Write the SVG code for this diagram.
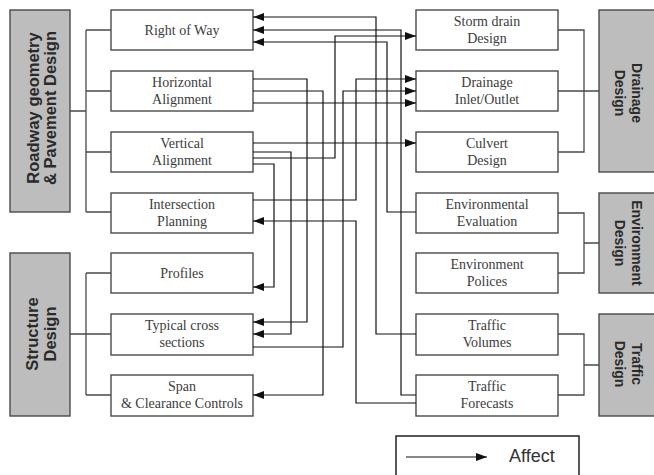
<svg xmlns="http://www.w3.org/2000/svg" width="654" height="475" viewBox="0 0 654 475">
<style>
.box{fill:#fff;stroke:#4a4a4a;stroke-width:1.4}
.gbox{fill:#bdbdbd;stroke:#4a4a4a;stroke-width:1.4}
.t{font-family:"Liberation Serif","Times New Roman",serif;font-size:14px;fill:#3c3c3c;text-anchor:middle}
.gt{font-family:"Liberation Sans",Arial,sans-serif;font-weight:bold;fill:#2a2a2a;text-anchor:middle}
.tree{fill:none;stroke:#4a4a4a;stroke-width:1.3}
.arr{fill:none;stroke:#111;stroke-width:1.2;marker-end:url(#ah)}
</style>
<defs>
<marker id="ah" viewBox="0 0 11 8" refX="11" refY="4" markerWidth="11" markerHeight="8" markerUnits="userSpaceOnUse" orient="auto">
<path d="M0,0 L11,4 L0,8 Z" fill="#111"/>
</marker>
</defs>
<rect width="654" height="475" fill="#fff"/>

<g id="roadway">
<rect class="gbox" x="10" y="10" width="60" height="202"/>
<g transform="translate(47,108) rotate(-90)"><text class="gt" font-size="16.5" x="0" y="-8">Roadway geometry</text><text class="gt" font-size="16.5" x="0" y="9">&amp; Pavement Design</text></g>
</g>
<g id="structure">
<rect class="gbox" x="10" y="253" width="60" height="163"/>
<g transform="translate(47,334) rotate(-90)"><text class="gt" font-size="16.5" x="0" y="-9">Structure</text><text class="gt" font-size="16.5" x="0" y="9">Design</text></g>
</g>
<g id="drainage">
<rect class="gbox" x="599" y="10" width="60" height="162"/>
<g transform="translate(624,93) rotate(90)"><text class="gt" font-size="14" x="0" y="-8">Drainage</text><text class="gt" font-size="14" x="0" y="9">Design</text></g>
</g>
<g id="environment">
<rect class="gbox" x="599" y="193" width="60" height="100"/>
<g transform="translate(624,243) rotate(90)"><text class="gt" font-size="14" x="0" y="-8">Environment</text><text class="gt" font-size="14" x="0" y="9">Design</text></g>
</g>
<g id="traffic">
<rect class="gbox" x="599" y="314" width="60" height="102"/>
<g transform="translate(624,364) rotate(90)"><text class="gt" font-size="14" x="0" y="-8">Traffic</text><text class="gt" font-size="14" x="0" y="9">Design</text></g>
</g>

<g id="right-of-way"><rect class="box" x="111" y="10" width="142" height="40"/><text class="t" x="182" y="35">Right of Way</text></g>
<g id="horizontal-alignment"><rect class="box" x="111" y="71" width="142" height="40"/><text class="t" x="182" y="87">Horizontal</text><text class="t" x="182" y="104">Alignment</text></g>
<g id="vertical-alignment"><rect class="box" x="111" y="132" width="142" height="40"/><text class="t" x="182" y="148">Vertical</text><text class="t" x="182" y="165">Alignment</text></g>
<g id="intersection-planning"><rect class="box" x="111" y="193" width="142" height="40"/><text class="t" x="182" y="209">Intersection</text><text class="t" x="182" y="226">Planning</text></g>
<g id="profiles"><rect class="box" x="111" y="253" width="142" height="40"/><text class="t" x="182" y="278">Profiles</text></g>
<g id="typical-cross-sections"><rect class="box" x="111" y="314" width="142" height="41"/><text class="t" x="182" y="330">Typical cross</text><text class="t" x="182" y="347">sections</text></g>
<g id="span-clearance"><rect class="box" x="111" y="375" width="142" height="41"/><text class="t" x="182" y="391">Span</text><text class="t" x="182" y="408">&amp; Clearance Controls</text></g>

<g id="storm-drain"><rect class="box" x="416" y="10" width="142" height="40"/><text class="t" x="487" y="26">Storm drain</text><text class="t" x="487" y="43">Design</text></g>
<g id="drainage-inlet"><rect class="box" x="416" y="71" width="142" height="40"/><text class="t" x="487" y="87">Drainage</text><text class="t" x="487" y="104">Inlet/Outlet</text></g>
<g id="culvert"><rect class="box" x="416" y="132" width="142" height="40"/><text class="t" x="487" y="148">Culvert</text><text class="t" x="487" y="165">Design</text></g>
<g id="environmental-evaluation"><rect class="box" x="416" y="193" width="142" height="40"/><text class="t" x="487" y="209">Environmental</text><text class="t" x="487" y="226">Evaluation</text></g>
<g id="environment-polices"><rect class="box" x="416" y="253" width="142" height="40"/><text class="t" x="487" y="269">Environment</text><text class="t" x="487" y="286">Polices</text></g>
<g id="traffic-volumes"><rect class="box" x="416" y="314" width="142" height="41"/><text class="t" x="487" y="330">Traffic</text><text class="t" x="487" y="347">Volumes</text></g>
<g id="traffic-forecasts"><rect class="box" x="416" y="375" width="142" height="41"/><text class="t" x="487" y="391">Traffic</text><text class="t" x="487" y="408">Forecasts</text></g>

<g id="connectors">
<path class="tree" d="M70,111 H86 M86,30 V212 M86,30 H111 M86,91 H111 M86,152 H111 M86,212 H111"/>
<path class="tree" d="M70,334 H111 M86,273 V395 M86,273 H111 M86,395 H111"/>
<path class="tree" d="M558,30 H584 V152 H558 M558,91 H599"/>
<path class="tree" d="M558,213 H584 V273 H558 M584,243 H599"/>
<path class="tree" d="M558,334 H584 V395 H558 M584,365 H599"/>

<path class="arr" d="M416,334 H376 V17 H253"/>
<path class="arr" d="M416,395 H401 V30 H253"/>
<path class="arr" d="M416,212 H387 V42 H253"/>
<path class="arr" d="M253,158 H335 V36 H416"/>
<path class="arr" d="M253,103 H416"/>
<path class="arr" d="M253,200 H356 V79 H416"/>
<path class="arr" d="M253,347 H343 V91 H416"/>
<path class="arr" d="M253,143 H416"/>
<path class="arr" d="M416,403 H356 V221 H253"/>
<path class="arr" d="M253,79 H307 V322 H253"/>
<path class="arr" d="M253,91 H323 V395 H253"/>
<path class="arr" d="M253,152 H291 V334 H253"/>
<path class="arr" d="M253,164 H274 V287 H253"/>
</g>

<g id="legend">
<rect x="396" y="436" width="183" height="50" fill="none" stroke="#222" stroke-width="1.5"/>
<path class="arr" d="M406,457 H487"/>
<text x="509" y="462" font-family="'Liberation Sans',Arial,sans-serif" font-size="18" fill="#333">Affect</text>
</g>
</svg>
